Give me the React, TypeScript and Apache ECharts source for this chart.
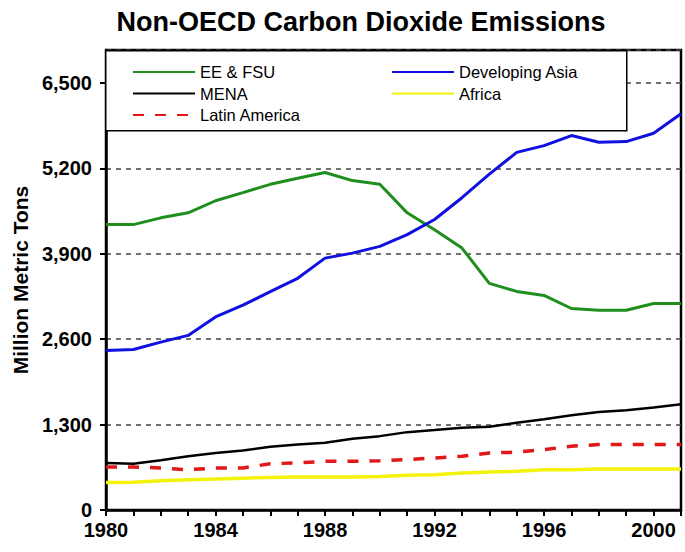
import React, { useEffect, useRef } from "react";
import * as echarts from "echarts";

const years = ["1980","1981","1982","1983","1984","1985","1986","1987","1988","1989","1990","1991","1992","1993","1994","1995","1996","1997","1998","1999","2000","2001"];
const eeFsu = [4343, 4343, 4446, 4522, 4706, 4829, 4956, 5048, 5135, 5013, 4956, 4522, 4266, 3986, 3449, 3326, 3265, 3066, 3040, 3040, 3143, 3143];
const devAsia = [2427, 2442, 2555, 2657, 2938, 3117, 3322, 3526, 3833, 3909, 4012, 4190, 4420, 4752, 5110, 5442, 5545, 5698, 5596, 5606, 5733, 6029];
const mena = [716, 705, 756, 817, 869, 904, 961, 996, 1022, 1083, 1124, 1185, 1216, 1252, 1268, 1329, 1380, 1441, 1492, 1518, 1559, 1610];
const africa = [419, 424, 445, 460, 470, 485, 496, 501, 501, 501, 511, 527, 537, 562, 577, 588, 613, 613, 624, 624, 624, 624];
const latinAmerica = [654, 654, 639, 613, 639, 639, 705, 716, 741, 741, 751, 767, 792, 817, 869, 879, 920, 970, 996, 996, 996, 996];

export default function App() {
  const ref = useRef<HTMLDivElement>(null);
  useEffect(() => {
    if (!ref.current) return;
    const chart = echarts.init(ref.current, null, { renderer: "svg" });
    const font = "Arial, 'Liberation Sans', sans-serif";
    const legendText = { fontFamily: font, fontSize: 16.5, color: "#000", lineHeight: 19 };
    chart.setOption({
      animation: false,
      backgroundColor: "#fff",
      title: {
        text: "Non-OECD Carbon Dioxide Emissions",
        left: 356,
        textAlign: "center",
        top: 3,
        textStyle: { fontFamily: font, fontSize: 27, fontWeight: "bold", color: "#000" },
      },
      grid: {
        left: 106, right: 4, top: 50, bottom: 42,
        show: true, borderColor: "#000", borderWidth: 2.5, backgroundColor: "transparent",
      },
      legend: [
        {
          left: 127, top: 57.5, orient: "vertical", itemWidth: 62, itemHeight: 14, itemGap: 2.5,
          data: ["EE & FSU", "MENA", "Latin America"],
          itemStyle: { opacity: 0 },
          textStyle: legendText,
          z: 5,
        },
        {
          left: 386, top: 57.5, orient: "vertical", itemWidth: 62, itemHeight: 14, itemGap: 2.5,
          data: ["Developing Asia", "Africa"],
          itemStyle: { opacity: 0 },
          textStyle: legendText,
          z: 5,
        },
      ],
      graphic: [
        {
          type: "rect", z: 1, left: 105, top: 50,
          shape: { width: 521, height: 80 },
          style: { fill: "#fff", stroke: "#000", lineWidth: 1.5 },
        },
      ],
      xAxis: {
        type: "category",
        data: years,
        boundaryGap: false,
        axisLine: { lineStyle: { color: "#000", width: 2.5 } },
        axisTick: { interval: 0, length: 6, lineStyle: { color: "#000", width: 2 } },
        axisLabel: { interval: 3, fontFamily: font, fontSize: 20, fontWeight: "bold", color: "#000", margin: 10 },
        splitLine: { show: false },
      },
      yAxis: {
        type: "value",
        min: 0, max: 7000, interval: 1300,
        name: "Million Metric Tons",
        nameLocation: "middle",
        nameGap: 73,
        nameTextStyle: { fontFamily: font, fontSize: 21, fontWeight: "bold", color: "#000" },
        axisLine: { show: true, lineStyle: { color: "#000", width: 2.5 } },
        axisTick: { show: true, length: 6, lineStyle: { color: "#000", width: 2 } },
        axisLabel: {
          showMaxLabel: false,
          fontFamily: font, fontSize: 20, fontWeight: "bold", color: "#000", margin: 14,
          formatter: (v: number) => v.toLocaleString("en-US"),
        },
        splitLine: { show: true, lineStyle: { color: "#444", width: 1.5, type: [5, 5] } },
      },
      series: [
        { name: "EE & FSU", type: "line", data: eeFsu, symbol: "none", lineStyle: { color: "#1e8f1e", width: 3 }, itemStyle: { color: "#1e8f1e" } },
        { name: "Developing Asia", type: "line", data: devAsia, symbol: "none", lineStyle: { color: "#1010e0", width: 3 }, itemStyle: { color: "#1010e0" } },
        { name: "MENA", type: "line", data: mena, symbol: "none", lineStyle: { color: "#000", width: 2.5 }, itemStyle: { color: "#000" } },
        { name: "Africa", type: "line", data: africa, symbol: "none", lineStyle: { color: "#f2f20a", width: 3.5 }, itemStyle: { color: "#f2f20a" } },
        { name: "Latin America", type: "line", data: latinAmerica, symbol: "none", lineStyle: { color: "#e01818", width: 3.5, type: [11, 11] }, itemStyle: { color: "#e01818" } },
      ],
    });
    return () => chart.dispose();
  }, []);
  return <div ref={ref} style={{ width: 685, height: 552, position: "absolute", left: 0, top: 0 }} />;
}
